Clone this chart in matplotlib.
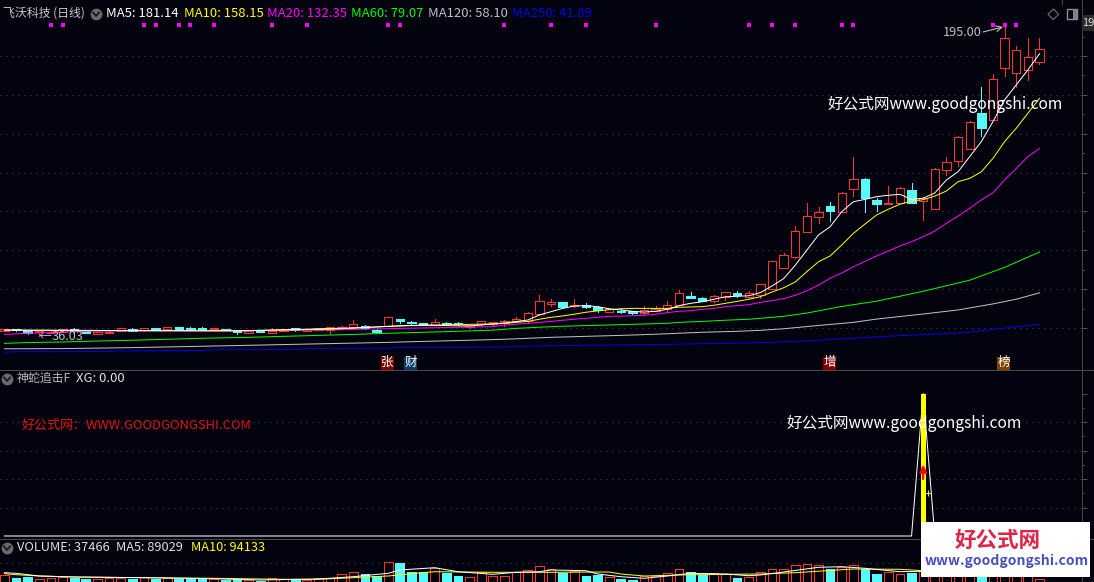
import matplotlib
matplotlib.use('Agg')
import matplotlib.pyplot as plt
from matplotlib.patches import Rectangle

plt.rcParams['font.family'] = ['Noto Sans CJK SC', 'DejaVu Sans']

BG = '#03030f'
RED = '#ff3232'
CYAN = '#54fcfc'
BLUE = '#0000e8'
GREY = '#c0c0c0'

# candles
opens = [38.3, 39.4, 39.0, 38.0, 37.3, 38.1, 39.5, 38.6, 36.9, 37.6,
         38.6, 39.7, 38.8, 40.0, 39.3, 40.3, 39.8, 40.0, 39.3, 39.4,
         38.6, 37.6, 38.6, 37.6, 38.6, 39.8, 38.6, 39.0, 39.0, 39.6,
         40.7, 41.0, 38.9, 41.0, 44.5, 43.3, 42.4, 41.5, 42.7, 42.4,
         40.3, 41.9, 41.9, 42.4, 43.6, 43.4, 47.2, 52.4, 53.4, 51.3,
         51.8, 51.0, 48.2, 48.9, 48.6, 47.9, 48.9, 49.9, 52.0, 56.5,
         55.4, 53.7, 56.0, 58.0, 56.0, 56.8, 60.2, 71.0, 76.5, 89.6,
         97.1, 102.8, 99.9, 111.7, 116.7, 105.9, 104.0, 104.5, 111.0, 105.5,
         101.4, 121.2, 125.8, 132.0, 150.5, 146.9, 173.7, 171.1, 172.6, 176.8]
closes = [39.5, 38.9, 37.3, 38.7, 38.1, 39.5, 38.3, 37.6, 38.1, 38.1,
          39.8, 38.6, 40.0, 39.0, 40.3, 39.3, 39.3, 39.3, 39.8, 39.0,
          38.0, 38.6, 38.1, 38.6, 39.3, 38.8, 39.3, 39.8, 40.3, 40.7,
          41.9, 40.2, 38.1, 45.5, 43.8, 42.4, 41.7, 42.9, 42.0, 41.9,
          41.5, 43.6, 42.9, 43.6, 44.6, 47.6, 53.7, 53.4, 50.8, 51.7,
          50.8, 49.3, 49.6, 48.4, 47.7, 49.3, 49.9, 51.7, 57.9, 55.4,
          53.9, 56.3, 58.4, 57.0, 57.9, 62.5, 74.3, 77.4, 89.8, 97.5,
          99.6, 100.2, 109.3, 116.5, 107.1, 103.8, 104.3, 111.9, 104.5, 106.8,
          121.7, 125.6, 138.5, 145.9, 143.1, 168.0, 189.4, 182.9, 179.6, 183.8]
lows = [38.2, 38.7, 37.1, 36.03, 37.2, 38.0, 38.1, 37.4, 36.8, 37.5,
        38.5, 38.3, 38.7, 38.8, 39.2, 39.1, 39.0, 39.0, 39.2, 38.9,
        36.9, 37.5, 37.7, 37.5, 38.5, 38.6, 38.5, 38.9, 36.9, 39.5,
        40.5, 39.7, 37.3, 40.8, 42.4, 41.9, 41.3, 41.4, 41.8, 41.6,
        40.2, 41.8, 41.8, 41.2, 43.4, 42.7, 46.7, 51.5, 50.8, 51.0,
        50.3, 48.4, 48.1, 47.6, 47.2, 47.1, 48.8, 48.9, 52.0, 55.4,
        53.8, 53.6, 54.6, 56.0, 55.6, 55.4, 60.1, 70.9, 76.0, 89.5,
        94.2, 95.2, 99.8, 108.1, 99.9, 100.4, 104.0, 104.4, 104.4, 95.6,
        101.3, 118.6, 123.5, 131.9, 138.8, 146.8, 169.9, 164.2, 167.6, 175.7]
highs = [39.7, 39.6, 39.2, 38.9, 38.4, 39.6, 40.0, 38.8, 38.3, 38.3,
         40.0, 40.2, 40.1, 40.1, 40.4, 40.4, 40.6, 40.7, 39.9, 39.5,
         38.7, 38.7, 38.8, 39.9, 39.4, 39.9, 39.5, 39.9, 40.4, 40.8,
         44.1, 41.5, 39.4, 45.6, 44.6, 43.4, 42.6, 44.6, 43.0, 43.0,
         41.6, 43.7, 43.0, 44.1, 45.7, 48.2, 57.0, 54.9, 53.4, 54.9,
         53.0, 51.3, 49.8, 49.8, 48.8, 51.3, 51.3, 53.9, 59.6, 58.5,
         56.0, 56.8, 58.5, 59.0, 58.9, 62.6, 74.4, 78.4, 92.5, 104.3,
         102.3, 104.9, 110.2, 128.0, 117.0, 107.1, 113.1, 112.4, 114.5, 107.3,
         122.4, 127.9, 138.6, 146.4, 163.9, 170.7, 195.0, 185.1, 189.1, 189.1]
days = list(range(len(closes)))

ma5_idx = [0, 10, 20, 30, 33, 36, 40, 43] + list(range(45, 90))
ma5 = [39.0, 38.7, 38.5, 40.0, 40.8, 41.5, 41.0, 42.6,
       44.1, 46.7, 48.4, 50.1, 51.3, 51.5, 51.0, 49.9, 49.3, 48.6,
       48.2, 48.6, 49.6, 51.5, 52.7, 53.5, 54.8, 56.1, 56.3, 56.6,
       58.2, 61.6, 65.4, 72.3, 80.1, 87.9, 92.1, 99.9, 105.0, 106.2,
       107.6, 108.3, 108.8, 106.2, 106.8, 109.5, 116.2, 120.4, 128.2, 135.9,
       146.2, 157.4, 165.1, 172.8, 181.14]
ma10_idx = [0, 10, 20, 28, 34, 42, 43] + list(range(45, 90))
ma10 = [38.8, 38.6, 38.6, 39.3, 41.2, 42.1, 42.4,
        43.4, 44.5, 45.5, 46.2, 47.1, 48.1, 48.8, 49.4, 49.9, 50.1,
        50.1, 50.1, 50.1, 50.7, 50.8, 51.0, 51.7, 52.7, 53.7, 54.8,
        56.1, 58.5, 60.7, 63.7, 69.0, 74.1, 77.1, 82.7, 88.7, 93.5,
        98.2, 101.1, 103.7, 105.4, 106.0, 107.9, 110.5, 115.3, 117.0, 120.4,
        127.3, 135.9, 142.8, 150.5, 158.15]
ma20_idx = [0, 2, 5, 8, 20, 28, 34, 42, 43] + list(range(45, 90))
ma20 = [36.7, 37.3, 37.9, 38.5, 38.6, 39.0, 39.8, 40.7, 41.5,
        42.4, 42.9, 43.4, 44.0, 44.5, 45.0, 45.5, 46.0, 46.1, 46.3,
        46.5, 47.1, 47.9, 48.6, 48.9, 49.6, 50.1, 51.0, 51.5, 52.0,
        53.2, 54.1, 55.1, 56.8, 59.2, 62.0, 65.6, 68.3, 71.5, 74.3,
        77.1, 79.6, 82.2, 84.4, 87.0, 89.9, 93.9, 97.6, 101.6, 105.9,
        109.6, 116.2, 122.0, 128.2, 132.35]
ma60_idx = [0, 2, 5, 8, 11, 14, 17, 21, 24, 27, 30, 33, 36, 39, 42, 44, 46, 48, 51, 54,
            57, 58, 60, 62, 64, 65, 67, 69, 72, 75, 79, 83, 86, 89]
ma60 = [32.1, 32.5, 32.8, 33.3, 33.7, 34.2, 34.7, 35.2, 35.7, 36.2, 36.7, 37.3, 37.8, 38.3, 38.9,
        39.8, 40.4, 40.9, 41.4, 41.9, 42.4, 42.9, 43.4, 44.0, 44.5, 45.0, 46.0, 47.7, 51.1,
        53.8, 58.9, 64.6, 71.2, 79.07]
ma120_idx = [0, 5, 11, 17, 21, 25, 29, 33, 36, 40, 43, 45, 47, 50, 53, 56, 58, 60, 63, 65, 67,
             70, 73, 75, 79, 82, 85, 87, 89]
ma120 = [29.3, 29.4, 29.9, 30.6, 31.1, 31.6, 32.1, 32.6, 33.1, 33.7, 34.2, 34.7, 35.2, 35.7,
         36.2, 36.8, 37.3, 37.8, 38.3, 38.8, 39.6, 41.3, 42.9, 44.6, 47.2, 49.3, 52.4, 54.8, 58.10]
ma250_idx = [0, 1, 9, 10, 17, 18, 25, 26, 33, 34, 42, 44, 50, 57, 62, 66, 70, 73, 75, 80, 83, 85, 89]
ma250 = [27.5, 27.8, 27.9, 28.3, 28.4, 28.8, 28.9, 29.5, 29.6, 30.0, 30.1, 30.6, 31.1, 31.6,
         32.1, 32.6, 33.7, 34.7, 35.5, 36.9, 37.8, 39.3, 41.89]

signal_idx = [4, 5, 12, 13, 15, 16, 18, 23, 26, 33, 34, 43, 47, 50, 56, 64, 66, 68, 72, 73, 85, 86, 87]
signal_level = 195.8

# XG panel
xg_idx = [0, 78, 79, 80, 89]
xg = [0, 0, 100, 0, 0]
xg_bar_day = 79
xg_bar = 100

# volume
volume = [69000, 47400, 55400, 39400, 47400, 53000, 47400, 39400, 37000, 42600,
          47400, 37000, 55400, 37000, 47400, 39400, 39400, 47400, 34600, 29000,
          37000, 29000, 23400, 47400, 39400, 34600, 29000, 47400, 47400, 74600,
          90600, 77000, 58600, 175400, 165000, 95400, 90600, 122600, 87400, 61000,
          50600, 93000, 61000, 63400, 90600, 109000, 141000, 114600, 87400, 98600,
          61000, 69000, 50600, 37000, 29000, 58600, 63400, 82600, 114600, 93000,
          69000, 82600, 77000, 45000, 50600, 93000, 114600, 114600, 146600, 154600,
          146600, 114600, 130600, 146600, 117000, 77000, 93000, 77000, 82600, 98600,
          120000, 90000, 130000, 125000, 95000, 140000, 110000, 85000, 60000, 37466]
vol5_idx = [0, 1, 3, 6, 12, 18, 22, 27, 30, 33, 34, 37, 39, 42, 44, 46, 47, 50, 51, 53, 55, 57,
            59, 62, 64, 65, 67, 70, 72, 74, 77, 85, 89]
vol5 = [87400, 82600, 61000, 53000, 47400, 39400, 29000, 37000, 55400, 82600, 109000, 127400,
        95400, 74600, 90600, 95400, 109000, 103400, 77000, 55400, 42600, 61000, 82600, 77000,
        63400, 69000, 93000, 130600, 135400, 122600, 95400, 110000, 89029]
vol10_idx = [0, 1, 3, 6, 12, 18, 24, 27, 30, 33, 36, 37, 42, 47, 52, 53, 55, 58, 62, 65, 68, 73, 77, 79, 89]
vol10 = [79400, 71400, 61000, 53000, 47400, 42600, 34600, 34600, 47400, 61000, 87400, 95400,
         90600, 90600, 93000, 77000, 61000, 69000, 74600, 77000, 87400, 117000, 114600, 103400, 94133]

W, H = 1094, 582
X0, SPACING = 4.4, 11.63      # pixel of day 0, pixels per day
XR = 1081.5
PX = 0.72                     # one pixel in points


def panel(top, bottom, ymin, ymax):
    # axes given in pixels of the picture
    ax = fig.add_axes([0, 1 - bottom / H, XR / W, (bottom - top) / H])
    ax.set_facecolor(BG)
    ax.set_xlim(-X0 / SPACING, (XR - X0) / SPACING)
    ax.set_ylim(ymin, ymax)
    ax.set_xticks([])
    ax.tick_params(axis='y', which='major', direction='out', length=3.6, width=PX, color='#505050',
                   left=False, right=True, labelleft=False, labelright=False)
    ax.tick_params(axis='y', which='minor', direction='out', length=1.5, width=PX, color='#505050',
                   left=False, right=True)
    for s in ['top', 'left', 'bottom']:
        ax.spines[s].set_visible(False)
    ax.spines['right'].set_color('#444444')
    ax.spines['right'].set_linewidth(PX)
    return ax


def dotted(ax, levels):
    for v in levels:
        ax.axhline(v, color='#4a4a4a', lw=PX, ls=(0, (1, 5)), zorder=1)


def bars(ax, x, tops, bottoms, wid):
    # red hollow when up, cyan filled when down
    for i, t, b, up in zip(x, tops, bottoms, ups):
        ax.bar(i, t - b, bottom=b, width=wid, zorder=3, lw=PX, antialiased=False,
               facecolor=BG if up else CYAN, edgecolor=RED if up else CYAN)


fig = plt.figure(figsize=(W / 100, H / 100), dpi=100, facecolor=BG)
ups = [c >= o for o, c in zip(opens, closes)]

# main panel
price_levels = list(range(40, 200, 20))
ax1 = panel(0, 370, 40 + (328 - 370) / 1.943, 40 + 328 / 1.943)
ax1.set_yticks(price_levels)
ax1.set_yticks(list(range(50, 200, 20)), minor=True)
dotted(ax1, price_levels)
for i, o, c, l, h, up in zip(days, opens, closes, lows, highs, ups):
    ax1.vlines(i, l, min(o, c), color=RED if up else CYAN, lw=PX, zorder=2, antialiased=False)
    ax1.vlines(i, max(o, c), h, color=RED if up else CYAN, lw=PX, zorder=2, antialiased=False)
bars(ax1, days, [max(o, c) for o, c in zip(opens, closes)],
     [min(o, c) for o, c in zip(opens, closes)], 0.72)
for xs, ys, col in [(ma250_idx, ma250, BLUE), (ma120_idx, ma120, GREY), (ma60_idx, ma60, '#00ff00'),
                    (ma20_idx, ma20, '#ff00ff'), (ma10_idx, ma10, '#ffff00'), (ma5_idx, ma5, '#ffffff')]:
    ax1.plot(xs, ys, color=col, lw=PX, zorder=4)
ax1.scatter(signal_idx, [signal_level] * len(signal_idx), marker='s', s=5, color='#ff00ff', lw=0, zorder=5)

# XG panel
ax2 = panel(370, 539.5, (536 - 539.5) / 1.425, (536 - 370) / 1.425)
ax2.set_yticks([20, 40, 60, 80, 100])
ax2.set_yticks([30, 50, 70, 90], minor=True)
dotted(ax2, [20, 40, 60, 80])
ax2.plot(xg_idx, xg, color='white', lw=PX, zorder=3)
ax2.bar(xg_bar_day, xg_bar, width=0.43, color='#ffff00', zorder=4, lw=0)
ax2.annotate('', xy=(xg_bar_day, 50), xytext=(xg_bar_day, 40), zorder=5,
             arrowprops=dict(arrowstyle='-|>', color='#ff0000', lw=1.6, mutation_scale=10,
                             shrinkA=0, shrinkB=0))
ax2.scatter([xg_bar_day + 0.38], [30], marker='+', s=22, color='#e8e040', lw=0.8, zorder=5)

# volume panel
ax3 = panel(539.5, 582, 13000, 13000 + 42.5 * 8000)
ax3.set_yticks([])
dotted(ax3, [169000])
bars(ax3, days, volume, [0] * len(volume), 0.75)
ax3.plot(vol10_idx, vol10, color='#ffff00', lw=PX, zorder=4)
ax3.plot(vol5_idx, vol5, color='#ffffff', lw=PX, zorder=5)

# overlay in picture pixels: labels, tags, separators, watermarks
ov = fig.add_axes([0, 0, 1, 1], facecolor='none')
ov.set_xlim(0, W)
ov.set_ylim(H, 0)
ov.axis('off')
ov.plot([0, W], [370.3, 370.3], color='#4a4a4a', lw=PX)
ov.plot([0, W], [539.4, 539.4], color='#4a4a4a', lw=PX)
ov.plot([1061.7, 1061.7], [0, 4], color='#4a4a4a', lw=PX)


def label(x, y, s, col, size=9.4, **kw):
    ov.text(x, y, s, color=col, fontsize=size, va='center', ha='left', **kw)


def chevron(x, y):
    ov.scatter([x], [y], s=72, color='#6a6a6a', lw=0, zorder=6)
    ov.plot([x - 3, x, x + 3], [y - 1.5, y + 2, y - 1.5], color='#1a1a1a', lw=1.3, zorder=7)


label(3, 13.5, '飞沃科技 (日线)', '#c8c8c8', size=8.6)
chevron(96, 14)
for x, s, col in [(106.5, 'MA5: 181.14', '#ffffff'), (183.5, 'MA10: 158.15', '#ffff00'),
                  (267, 'MA20: 132.35', '#ff00ff'), (351, 'MA60: 79.07', '#00ff00'),
                  (428.5, 'MA120: 58.10', GREY), (512, 'MA250: 41.89', BLUE)]:
    label(x, 13.5, s, col)

chevron(7, 379)
label(17, 378.5, '神蛇追击F', '#b8b8b8', size=8.6)
label(76, 378.5, 'XG: 0.00', '#e0e0e0')
chevron(7, 548)
label(17, 547.5, 'VOLUME: 37466', '#e0e0e0', size=9.2)
label(116.5, 547.5, 'MA5: 89029', '#e0e0e0', size=9.2)
label(191, 547.5, 'MA10: 94133', '#ffff00', size=9.2)

# high and low marks
label(943, 32.5, '195.00', GREY, size=9.2)
ov.annotate('', xy=(1003, 27), xytext=(983, 32),
            arrowprops=dict(arrowstyle='->', color=GREY, lw=0.8, shrinkA=0, shrinkB=0))
label(39, 336, '←', GREY, size=9.2)
label(52, 336, '36.03', GREY, size=9.2)

# tags under the candles
for x, s, col in [(387.5, '张', '#800000'), (410.5, '财', '#0a3a6a'),
                  (829.5, '增', '#800000'), (1003.5, '榜', '#804000')]:
    ov.add_patch(Rectangle((x - 6.5, 356.5), 13, 13, color=col, lw=0))
    ov.text(x, 362.5, s, color='white', fontsize=9, ha='center', va='center')

# watermarks
label(828, 104.5, '好公式网www.goodgongshi.com', 'white', size=11.25)
label(787, 423.5, '好公式网www.goodgongshi.com', 'white', size=11.25)
label(22, 425.5, '好公式网：WWW.GOODGONGSHI.COM', '#e01010', size=9.35)
ov.add_patch(Rectangle((921, 522), 168.5, 54.7, color='white', lw=0, zorder=8))
ov.text(997.5, 540, '好公式网', color='#e0254a', fontsize=15.5, fontweight='bold',
        ha='center', va='center', zorder=9)
ov.text(1006.5, 561, 'www.goodgongshi.com', color='#4a4fc0', fontsize=10, fontweight='bold',
        ha='center', va='center', zorder=9)

# top right corner
ov.scatter([1053.3], [14.3], marker='D', s=29, facecolor='none', edgecolor='#707070', lw=0.8)
ov.add_patch(Rectangle((1067, 9.3), 10, 10, facecolor='none', edgecolor='#909090', lw=1))
ov.add_patch(Rectangle((1072.5, 9.3), 4.5, 10, color='#808080', lw=0))
ov.add_patch(Rectangle((1082, 15), 12, 16, color='#2c2c2c', lw=0))
ov.text(1082.5, 22.5, '19', color='#d8d8d8', fontsize=8, va='center', ha='left')

fig.savefig('out.png', dpi=100, facecolor=BG)
